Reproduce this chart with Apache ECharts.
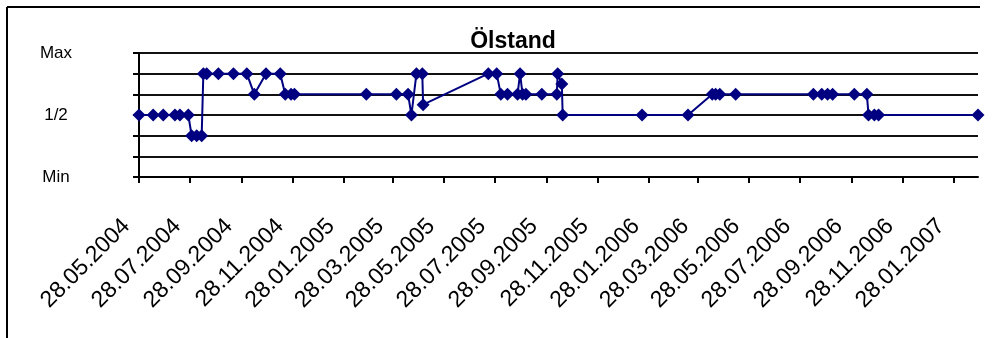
<!DOCTYPE html>
<html>
<head>
<meta charset="utf-8">
<script src="https://cdn.jsdelivr.net/npm/echarts@6/dist/echarts.min.js"></script>
<style>
html,body{margin:0;padding:0;background:#fff;}
#chart{width:995px;height:338px;}
</style>
</head>
<body>
<div id="chart"></div>
<script>
const chartTitle = 'Ölstand';
const dates = [
'28.05.2004','14.06.2004','26.06.2004','10.07.2004','16.07.2004','26.07.2004',
'30.07.2004','05.08.2004','11.08.2004','13.08.2004','17.08.2004','31.08.2004',
'18.09.2004','04.10.2004','13.10.2004','27.10.2004','13.11.2004','19.11.2004',
'26.11.2004','30.11.2004','24.02.2005','01.04.2005','15.04.2005','19.04.2005',
'25.04.2005','02.05.2005','03.05.2005','20.07.2005','30.07.2005','04.08.2005',
'12.08.2005','24.08.2005','27.08.2005','30.08.2005','03.09.2005','22.09.2005',
'10.10.2005','11.10.2005','16.10.2005','17.10.2005','20.01.2006','16.03.2006',
'14.04.2006','18.04.2006','23.04.2006','12.05.2006','13.08.2006','23.08.2006',
'30.08.2006','05.09.2006','01.10.2006','16.10.2006','18.10.2006','25.10.2006',
'30.10.2006','26.02.2007'];
const levels = [
3,3,3,3,3,3,
2,2,2,5,5,5,
5,5,4,5,5,4,
4,4,4,4,4,3,
5,5,3.5,5,5,4,
4,4,5,4,4,4,
4,5,4.5,3,3,3,
4,4,4,4,4,4,
4,4,4,4,3,3,
3,3];
const tickLabels = ['28.05.2004','28.07.2004','28.09.2004','28.11.2004','28.01.2005','28.03.2005',
'28.05.2005','28.07.2005','28.09.2005','28.11.2005','28.01.2006','28.03.2006','28.05.2006',
'28.07.2006','28.09.2006','28.11.2006','28.01.2007'];
const yLabels = {0:'Min',3:'1/2',6:'Max'};

const DAY = 86400000;
function parseD(s){const p=s.split('.');return Date.UTC(+p[2],+p[1]-1,+p[0]);}
const t0 = parseD(dates[0]);
function dayOf(s){return Math.round((parseD(s)-t0)/DAY);}
const tickVals = tickLabels.map(dayOf);
const labelMap = {};
tickLabels.forEach((s,i)=>{labelMap[tickVals[i]]=s;});
const seriesData = dates.map((d,i)=>[dayOf(d),levels[i]]);

const chart = echarts.init(document.getElementById('chart'),null,{renderer:'canvas'});
const FONT = '"Liberation Sans", Arial, sans-serif';
chart.setOption({
  animation:false,
  backgroundColor:'#fff',
  title:{text:chartTitle,left:508,top:25,textAlign:'center',
    textStyle:{fontFamily:FONT,fontWeight:'bold',fontSize:23,color:'#000'}},
  grid:{left:139,right:17,top:53,bottom:161,containLabel:false},
  xAxis:{type:'value',min:0,max:dayOf(dates[dates.length-1]),
    axisLine:{show:true,lineStyle:{color:'#000',width:2}},
    axisTick:{show:true,customValues:tickVals,length:6,inside:false,lineStyle:{color:'#000',width:2}},
    axisLabel:{customValues:tickVals,rotate:45,margin:33,
      fontFamily:FONT,fontSize:23,color:'#000',
      formatter:(v)=>labelMap[v]?('{t|'+labelMap[v]+'}{s| }'):'',
      rich:{t:{fontFamily:FONT,fontSize:23,color:'#000'},s:{width:18,fontSize:23}}},
    splitLine:{show:false}},
  yAxis:{type:'value',min:0,max:6,interval:1,
    axisLine:{show:true,lineStyle:{color:'#000',width:2}},
    axisTick:{show:true,length:6,lineStyle:{color:'#000',width:2}},
    axisLabel:{show:true,align:'center',margin:83,fontFamily:FONT,fontSize:17,color:'#000',
      formatter:(v)=>yLabels[v]!==undefined?yLabels[v]:''},
    splitLine:{show:true,lineStyle:{color:'#111',width:2}}},
  graphic:[
    {type:'line',shape:{x1:7,y1:7,x2:7,y2:338},style:{stroke:'#000',lineWidth:2}},
    {type:'line',shape:{x1:7,y1:7,x2:980,y2:7},style:{stroke:'#000',lineWidth:2}}
  ],
  series:[{type:'line',data:seriesData,clip:false,
    symbol:'diamond',symbolSize:13,showSymbol:true,
    lineStyle:{color:'#000080',width:2},
    itemStyle:{color:'#000080'}}]
});
</script>
</body>
</html>
